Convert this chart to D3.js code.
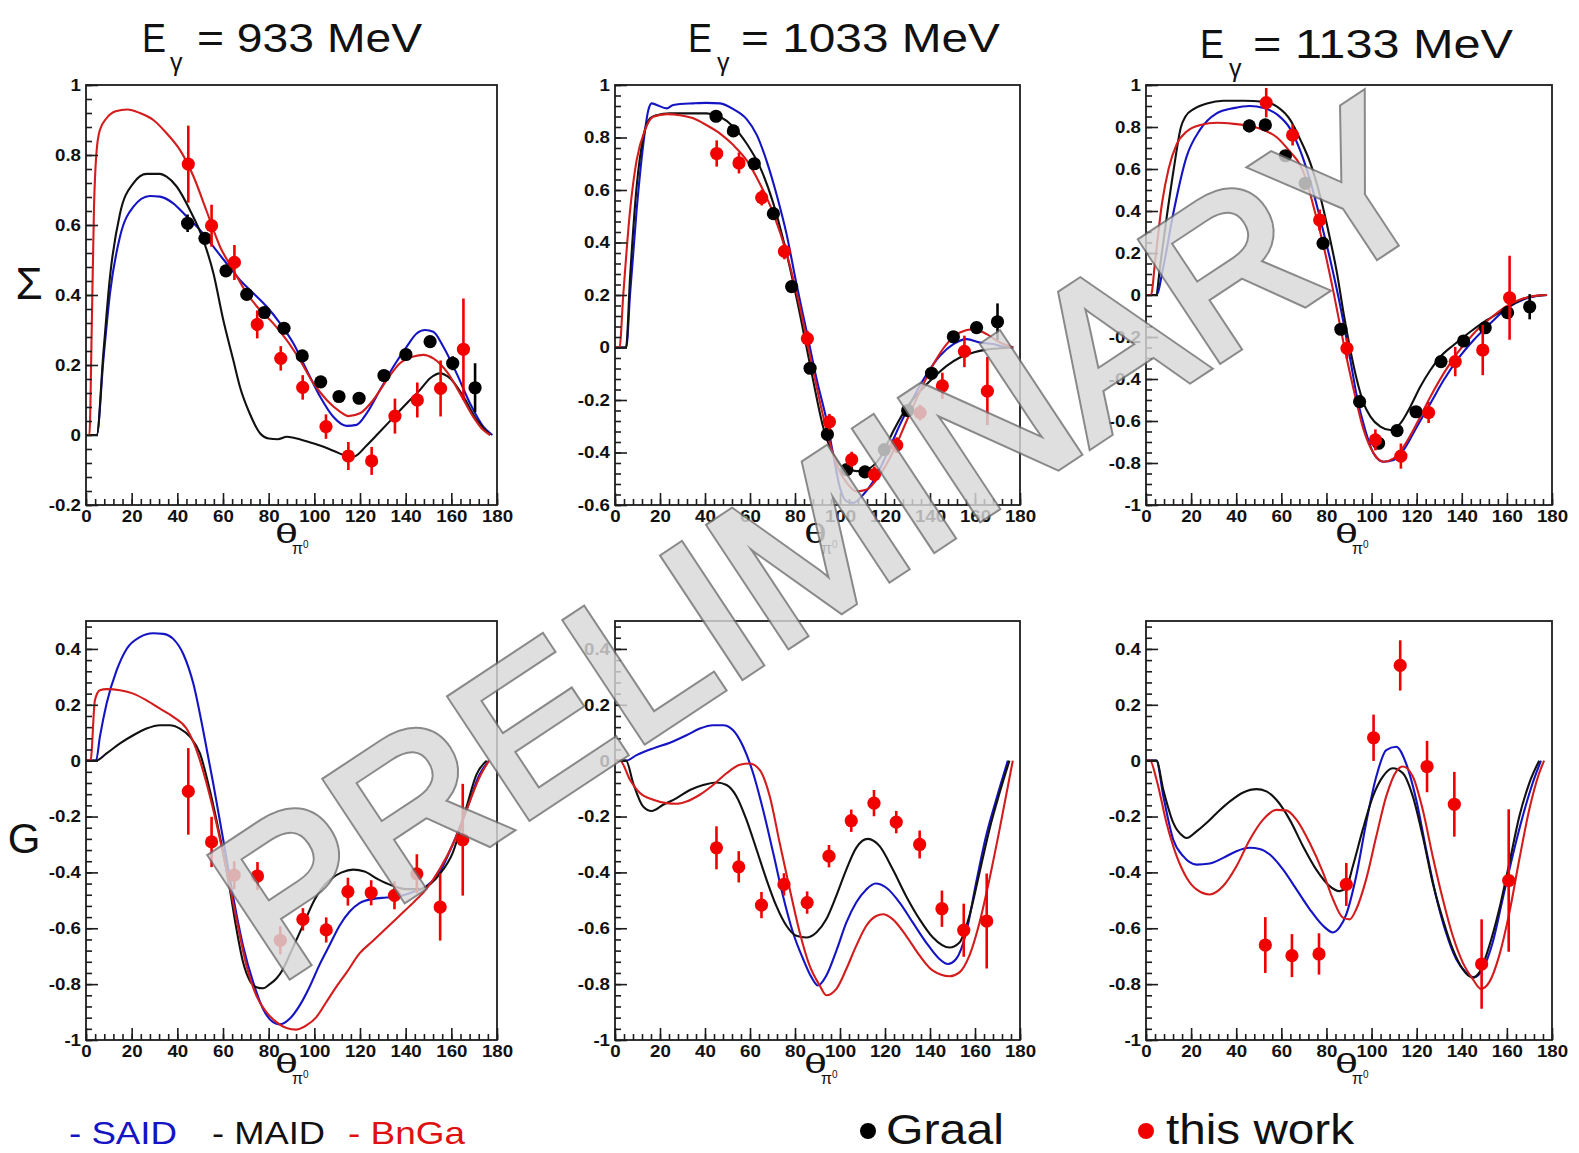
<!DOCTYPE html>
<html>
<head>
<meta charset="utf-8">
<script src="https://cdn.jsdelivr.net/npm/d3@7"></script>
<style>
  html, body { margin: 0; padding: 0; background: #fff; }
  svg { display: block; }
</style>
</head>
<body>
<svg id="fig" width="1579" height="1153"></svg>
<script>
// ---------- axis ticks ----------
const angleTicks = [0, 20, 40, 60, 80, 100, 120, 140, 160, 180];
const sigmaTicks933 = [-0.2, 0, 0.2, 0.4, 0.6, 0.8, 1];
const sigmaTicks1033 = [-0.6, -0.4, -0.2, 0, 0.2, 0.4, 0.6, 0.8, 1];
const sigmaTicks1133 = [-1, -0.8, -0.6, -0.4, -0.2, 0, 0.2, 0.4, 0.6, 0.8, 1];
const gTicks = [-1, -0.8, -0.6, -0.4, -0.2, 0, 0.2, 0.4];

const titles = ["933", "1033", "1133"];

// ---------- Sigma, E = 933 MeV : model curves [theta, value] ----------
const sig933Said = [[0,0],[4.7,0],[7.6,0.214],[10.5,0.405],[14.9,0.567],[20.7,0.652],[28,0.683],[32.4,0.681],[38.2,0.662],[44.1,0.624],[49.9,0.586],[55.8,0.538],[61.6,0.49],[67.4,0.443],[73.3,0.405],[79.1,0.367],[85,0.319],[90.8,0.262],[96.6,0.186],[102.5,0.11],[108.3,0.052],[114.2,0.026],[118.5,0.029],[122.9,0.062],[128.8,0.129],[134.6,0.195],[140.4,0.252],[144.8,0.29],[148.5,0.3],[152.1,0.295],[156.5,0.252],[162.3,0.176],[168.2,0.09],[174,0.024],[177,0.005],[178,0]];
const sig933Maid = [[0,0],[4.7,0],[7.6,0.233],[10.5,0.452],[14.9,0.633],[20.7,0.719],[26.6,0.746],[32.4,0.746],[35.3,0.738],[39.7,0.71],[45.5,0.643],[51.4,0.557],[55.8,0.462],[60.1,0.329],[64.5,0.214],[67.4,0.138],[71.8,0.06],[76.2,0.005],[80,-0.01],[84,-0.012],[88,-0.005],[91,-0.008],[96.6,-0.018],[102.5,-0.03],[108.3,-0.045],[114.2,-0.06],[117.1,-0.062],[122.9,-0.03],[128.8,0.01],[134.6,0.05],[140.4,0.09],[146.3,0.129],[150.7,0.162],[155,0.176],[159.4,0.162],[165.3,0.11],[171.1,0.043],[175.5,0.01],[177,0]];
const sig933Bnga = [[0,0],[1.5,0],[2.5,0.3],[3.5,0.65],[4.5,0.8],[6,0.87],[9,0.905],[13,0.925],[18,0.93],[23.6,0.92],[29.5,0.9],[35.3,0.862],[41.2,0.814],[47,0.74],[52.8,0.64],[58.7,0.538],[64.5,0.471],[70.4,0.405],[76.2,0.357],[82,0.319],[87.9,0.271],[93.7,0.214],[99.6,0.148],[105.4,0.1],[111.2,0.067],[114.9,0.054],[120,0.062],[125.8,0.1],[131.7,0.157],[137.5,0.205],[143.4,0.224],[147.7,0.229],[152.1,0.219],[158,0.181],[163.8,0.119],[169.6,0.052],[174,0.014],[177,0]];
// data points [theta, value, error]
const sig933Graal = [[44.5,0.605,0.025],[52.1,0.562,0.015],[61.3,0.469,0.015],[70.4,0.402,0.015],[78.1,0.35,0.015],[86.7,0.305,0.015],[94.7,0.226,0.015],[102.8,0.152,0.015],[110.8,0.11,0.015],[119.6,0.105,0.015],[130.5,0.17,0.015],[140.1,0.23,0.015],[150.7,0.267,0.015],[160.6,0.205,0.02],[170.4,0.135,0.07]];
const sig933Work = [[44.8,0.774,0.11],[55,0.598,0.06],[65,0.493,0.05],[75,0.316,0.04],[85.3,0.219,0.035],[94.9,0.136,0.035],[105.1,0.024,0.035],[114.9,-0.06,0.04],[125.1,-0.074,0.04],[135.3,0.054,0.05],[145.1,0.1,0.05],[155.3,0.133,0.08],[165.3,0.245,0.145]];

// ---------- Sigma, E = 1033 MeV ----------
const sig1033Said = [[0,0],[5,0],[6.7,0.204],[9.6,0.522],[12.6,0.777],[14.8,0.904],[16.3,0.93],[18.5,0.924],[23,0.911],[25.9,0.924],[34.8,0.93],[40.7,0.932],[46.7,0.93],[52.6,0.908],[58.5,0.87],[63,0.81],[67.4,0.71],[71.9,0.58],[76.3,0.43],[80.7,0.24],[85.2,0.06],[89.6,-0.12],[94.1,-0.28],[97,-0.408],[100,-0.535],[103,-0.586],[105.9,-0.592],[110.4,-0.56],[114.8,-0.51],[120.7,-0.408],[126.7,-0.293],[132.6,-0.191],[138.5,-0.102],[144.4,-0.032],[150.4,0.013],[156.3,0.032],[162.2,0.019],[168.1,0.013],[172.6,0.003],[177,0]];
const sig1033Maid = [[0,0],[4.9,0],[6.7,0.268],[9.6,0.611],[12.6,0.803],[15.6,0.873],[18.5,0.885],[24.4,0.892],[31.9,0.892],[40.7,0.892],[46.7,0.879],[52.6,0.841],[58.5,0.777],[64.4,0.688],[70.4,0.548],[76.3,0.357],[82.2,0.127],[88.1,-0.127],[92.6,-0.306],[97,-0.408],[101.5,-0.459],[107.4,-0.471],[111.9,-0.465],[117.8,-0.42],[123.7,-0.318],[129.6,-0.229],[135.6,-0.166],[141.5,-0.115],[147.4,-0.07],[153.3,-0.038],[159.3,-0.019],[165.2,-0.008],[171.1,-0.003],[177,0]];
const sig1033Bnga = [[0,0],[2,0],[3.7,0.204],[6.7,0.522],[9.6,0.713],[13.3,0.828],[17,0.879],[23,0.889],[28.9,0.885],[34.8,0.873],[40.7,0.847],[46.7,0.815],[52.6,0.771],[58.5,0.713],[64.4,0.624],[70.4,0.51],[76.3,0.357],[82.2,0.153],[88.1,-0.089],[94.1,-0.318],[98.5,-0.446],[103,-0.516],[107.4,-0.548],[111.9,-0.541],[117.8,-0.484],[123.7,-0.395],[129.6,-0.28],[135.6,-0.166],[141.5,-0.064],[147.4,0.013],[153.3,0.057],[159.3,0.07],[165.2,0.051],[171.1,0.019],[177,0]];
const sig1033Graal = [[44.9,0.881,0.015],[52.6,0.825,0.015],[61.9,0.70,0.015],[70.4,0.51,0.015],[78.5,0.232,0.015],[86.7,-0.079,0.015],[94.4,-0.331,0.015],[103,-0.465,0.015],[111.1,-0.474,0.015],[119.7,-0.389,0.015],[130.1,-0.24,0.015],[140.7,-0.098,0.015],[150.4,0.041,0.015],[160.7,0.076,0.02],[170,0.098,0.07]];
const sig1033Work = [[45.2,0.739,0.05],[55.1,0.703,0.04],[65.2,0.571,0.03],[75.3,0.366,0.03],[85.5,0.034,0.03],[95.3,-0.283,0.03],[105.2,-0.427,0.03],[115.3,-0.484,0.03],[125.2,-0.372,0.03],[135.6,-0.248,0.03],[145.5,-0.146,0.05],[155.3,-0.015,0.06],[165.5,-0.166,0.13]];

// ---------- Sigma, E = 1133 MeV ----------
const sig1133Said = [[0,0],[4.6,0],[7.7,0.135],[12.1,0.389],[18,0.659],[23.9,0.786],[31.3,0.865],[38.9,0.89],[46.1,0.9],[52.2,0.89],[58.1,0.86],[64,0.79],[68.3,0.69],[72.9,0.54],[77.3,0.36],[81.7,0.167],[86.2,-0.056],[90.6,-0.31],[93.5,-0.484],[97.2,-0.643],[100.9,-0.754],[105.4,-0.794],[109.8,-0.786],[114.2,-0.738],[120.1,-0.627],[126.1,-0.516],[132,-0.405],[137.9,-0.31],[145.3,-0.214],[152.7,-0.135],[160,-0.063],[167.4,-0.021],[173.3,-0.005],[177.8,0]];
const sig1133Maid = [[0,0],[4.4,0],[6.4,0.15],[9.3,0.38],[12.3,0.6],[15.5,0.8],[17.5,0.85],[21.1,0.885],[27,0.912],[34.4,0.925],[43.3,0.925],[52.2,0.92],[58.1,0.897],[64,0.833],[68.4,0.74],[72.9,0.627],[77.3,0.468],[81.7,0.262],[84.7,0.103],[87.6,-0.087],[90.6,-0.262],[93.5,-0.405],[96.5,-0.516],[99.5,-0.579],[103.9,-0.627],[108.3,-0.643],[112.8,-0.611],[117.2,-0.532],[121.6,-0.437],[126.1,-0.357],[130.5,-0.294],[136.4,-0.238],[143.8,-0.175],[151.2,-0.119],[158.6,-0.071],[164.5,-0.032],[170.4,-0.008],[177.8,0]];
const sig1133Bnga = [[0,0],[2.2,0],[4.1,0.167],[7.1,0.437],[10,0.6],[13.7,0.72],[18.2,0.78],[24.1,0.81],[31.5,0.82],[38.9,0.815],[46.3,0.805],[52.2,0.786],[58.1,0.75],[64,0.68],[68.3,0.62],[71,0.55],[74.3,0.42],[78.8,0.23],[83.2,0.01],[87.6,-0.23],[92.1,-0.452],[96.5,-0.643],[100.9,-0.754],[105.4,-0.794],[109.8,-0.778],[114.2,-0.722],[120.1,-0.611],[126.1,-0.484],[132,-0.373],[137.9,-0.278],[145.3,-0.183],[152.7,-0.111],[160,-0.052],[167.4,-0.016],[173.3,-0.003],[177.8,0]];
const sig1133Graal = [[45.8,0.805,0.03],[52.9,0.81,0.02],[61.8,0.663,0.015],[70.6,0.532,0.015],[78.5,0.246,0.02],[86.4,-0.163,0.02],[94.7,-0.508,0.02],[103.1,-0.706,0.02],[111.3,-0.646,0.02],[119.7,-0.556,0.02],[130.8,-0.317,0.02],[140.8,-0.219,0.02],[150.4,-0.156,0.02],[160.3,-0.084,0.03],[170.1,-0.056,0.06]];
const sig1133Work = [[53.3,0.916,0.07],[65,0.762,0.05],[77,0.357,0.05],[89.1,-0.254,0.05],[101.7,-0.69,0.05],[113,-0.767,0.06],[125.3,-0.56,0.05],[137.1,-0.317,0.07],[149.3,-0.262,0.12],[161.2,-0.013,0.2]];

// ---------- G, E = 933 MeV ----------
const g933Said = [[0,0],[4.4,0],[6.1,0.086],[9,0.204],[13.4,0.323],[17.8,0.4],[23.6,0.442],[29.4,0.456],[33.8,0.454],[38.2,0.436],[42.6,0.382],[47,0.276],[51.3,0.109],[55.7,-0.081],[60.1,-0.283],[64.4,-0.485],[68.8,-0.663],[73.2,-0.793],[77.5,-0.888],[81.9,-0.936],[84.8,-0.944],[89.2,-0.924],[93.6,-0.876],[97.9,-0.81],[102.3,-0.73],[106.7,-0.66],[111.1,-0.59],[115.5,-0.54],[119.8,-0.51],[125.7,-0.495],[131.5,-0.49],[137.3,-0.485],[143.1,-0.47],[149,-0.45],[154.8,-0.4],[160.6,-0.3],[166.5,-0.18],[172.3,-0.05],[176.5,0]];
const g933Maid = [[0,0],[4.4,0],[9,0.026],[14.9,0.062],[20.7,0.091],[26.5,0.115],[32.4,0.127],[36.7,0.127],[41.1,0.115],[45.5,0.086],[49.9,0.026],[54.2,-0.105],[57.1,-0.211],[60.1,-0.33],[63,-0.461],[65.9,-0.603],[68.8,-0.722],[71.7,-0.787],[74.6,-0.811],[77.6,-0.815],[80.5,-0.8],[83.4,-0.78],[86,-0.75],[90,-0.68],[95,-0.59],[100,-0.5],[103,-0.46],[107,-0.425],[112,-0.4],[117,-0.39],[122,-0.397],[128,-0.425],[134,-0.447],[140,-0.46],[146,-0.46],[151,-0.44],[155,-0.405],[160.6,-0.33],[166.5,-0.17],[171,-0.05],[175.5,0]];
const g933Bnga = [[0,0],[2,0],[3.9,0.216],[6.1,0.252],[9,0.256],[14.9,0.252],[20.7,0.24],[26.5,0.216],[32.4,0.186],[38.2,0.157],[44,0.115],[48.4,0.038],[52.8,-0.081],[57.1,-0.223],[61.5,-0.39],[65.9,-0.568],[70.3,-0.734],[74.6,-0.841],[79,-0.9],[83.4,-0.936],[87.8,-0.957],[92.1,-0.963],[96.5,-0.948],[100.9,-0.918],[105.2,-0.865],[109.6,-0.81],[114,-0.76],[119.8,-0.69],[125.7,-0.645],[131.5,-0.6],[137.3,-0.555],[143.1,-0.51],[149,-0.46],[154.8,-0.39],[160.6,-0.3],[166.5,-0.18],[172.3,-0.06],[176.5,0]];
const g933Work = [[44.8,-0.11,0.155],[55,-0.291,0.09],[64.9,-0.41,0.05],[75.1,-0.413,0.05],[85.1,-0.643,0.05],[95,-0.568,0.04],[105.2,-0.606,0.045],[114.7,-0.469,0.05],[124.9,-0.473,0.045],[135.1,-0.482,0.05],[144.9,-0.405,0.07],[155.1,-0.524,0.12],[165,-0.283,0.2]];

// ---------- G, E = 1033 MeV ----------
const g1033Said = [[0,0],[4.9,0],[9.6,0.02],[17,0.044],[24.4,0.064],[31.8,0.091],[37.7,0.115],[43.6,0.127],[48.1,0.127],[52.5,0.109],[57,0.05],[61.4,-0.045],[65.8,-0.176],[70.3,-0.33],[74.7,-0.485],[79.1,-0.615],[83.6,-0.71],[87.3,-0.775],[90.2,-0.805],[93.9,-0.77],[98.4,-0.68],[102.8,-0.58],[107.2,-0.508],[111.7,-0.461],[115.8,-0.44],[120.6,-0.455],[126.5,-0.508],[132.4,-0.58],[138.3,-0.651],[144.2,-0.71],[147.9,-0.728],[151.6,-0.71],[156.1,-0.615],[160.5,-0.437],[164.9,-0.271],[169.4,-0.14],[174.6,0]];
const g1033Maid = [[0,0],[4.9,0],[8.1,-0.081],[12.6,-0.165],[16.3,-0.18],[21.4,-0.158],[27.4,-0.134],[33.3,-0.105],[39.2,-0.087],[45.1,-0.078],[49.6,-0.087],[54,-0.128],[58.4,-0.211],[62.9,-0.318],[67.3,-0.425],[71.7,-0.52],[76.2,-0.591],[80.6,-0.627],[85,-0.633],[89.5,-0.615],[93.9,-0.568],[98.3,-0.485],[102.8,-0.39],[107.2,-0.312],[112.4,-0.28],[117.6,-0.306],[123.5,-0.39],[129.4,-0.485],[135.4,-0.568],[141.3,-0.633],[148.7,-0.669],[153.1,-0.651],[157.5,-0.556],[162,-0.401],[166.4,-0.247],[170.9,-0.116],[175.3,0]];
const g1033Bnga = [[0,0],[2.2,0],[6.7,-0.069],[11.1,-0.116],[17,-0.14],[22.9,-0.152],[27.4,-0.154],[31.8,-0.146],[37.7,-0.122],[43.6,-0.087],[49.6,-0.045],[55.5,-0.015],[59.9,-0.01],[64.3,-0.033],[68.8,-0.128],[73.2,-0.295],[77.7,-0.461],[82.1,-0.615],[86.5,-0.734],[91,-0.805],[93.9,-0.84],[98.4,-0.817],[102.8,-0.746],[107.2,-0.663],[111.7,-0.591],[116.1,-0.556],[119.1,-0.55],[123.5,-0.568],[129.4,-0.627],[135.4,-0.698],[141.3,-0.752],[148.7,-0.772],[153.1,-0.758],[157.5,-0.698],[162,-0.58],[166.4,-0.425],[170.9,-0.247],[176.8,0]];
const g1033Work = [[45.1,-0.312,0.077],[55,-0.38,0.056],[65.1,-0.517,0.047],[75.1,-0.443,0.04],[85.4,-0.508,0.04],[95.1,-0.342,0.04],[105,-0.215,0.04],[115.1,-0.152,0.047],[125,-0.22,0.04],[135.4,-0.3,0.05],[145.3,-0.53,0.065],[155,-0.607,0.095],[165.2,-0.574,0.17]];

// ---------- G, E = 1133 MeV ----------
const g1133Said = [[0,0],[4.6,0],[7.7,-0.128],[12.1,-0.283],[16.5,-0.342],[22.4,-0.372],[28.3,-0.368],[34.2,-0.348],[40.1,-0.324],[46,-0.312],[50.4,-0.316],[54.9,-0.336],[60.8,-0.39],[66.7,-0.461],[72.6,-0.532],[78.5,-0.591],[82.9,-0.615],[85.8,-0.597],[88.8,-0.55],[93.2,-0.413],[97.6,-0.223],[102.1,-0.057],[106.5,0.038],[110.9,0.05],[115.3,-0.01],[119.8,-0.14],[124.2,-0.318],[128.6,-0.485],[133,-0.615],[137.5,-0.71],[141.9,-0.758],[145.6,-0.776],[149.3,-0.746],[153.7,-0.651],[158.1,-0.496],[162.5,-0.342],[167,-0.2],[171.4,-0.081],[175.1,0]];
const g1133Maid = [[0,0],[4.6,0],[7.7,-0.105],[12.1,-0.223],[16.5,-0.271],[18,-0.277],[22.4,-0.253],[26.8,-0.223],[31.3,-0.188],[37.2,-0.146],[43.1,-0.114],[49,-0.102],[53.4,-0.11],[57.8,-0.14],[63.7,-0.211],[69.6,-0.306],[75.5,-0.39],[81.4,-0.449],[85.8,-0.467],[88.8,-0.455],[91.7,-0.378],[96.1,-0.247],[100.6,-0.128],[105,-0.057],[109.4,-0.027],[113.9,-0.045],[118.3,-0.128],[122.7,-0.271],[127.1,-0.437],[131.6,-0.568],[136,-0.675],[140.4,-0.746],[144.8,-0.776],[147.8,-0.758],[152.2,-0.663],[156.6,-0.532],[161.1,-0.366],[165.5,-0.2],[169.9,-0.081],[174.3,0]];
const g1133Bnga = [[0,0],[1.8,0],[4.7,-0.069],[9.1,-0.223],[13.6,-0.342],[18,-0.419],[22.4,-0.461],[28.3,-0.479],[34.2,-0.449],[40.1,-0.378],[46,-0.283],[51.9,-0.211],[57.8,-0.176],[62.2,-0.178],[66.7,-0.211],[72.6,-0.295],[78.5,-0.401],[82.9,-0.496],[87.3,-0.562],[90.3,-0.568],[93.2,-0.532],[97.6,-0.425],[102.1,-0.271],[106.5,-0.128],[110.9,-0.039],[113.9,-0.021],[118.3,-0.057],[122.7,-0.176],[127.1,-0.342],[131.6,-0.496],[136,-0.627],[140.4,-0.722],[144.8,-0.781],[148.5,-0.817],[152.2,-0.793],[156.6,-0.698],[161.1,-0.544],[165.5,-0.354],[169.9,-0.176],[174.3,-0.045],[176.5,0]];
const g1133Work = [[52.9,-0.66,0.1],[64.7,-0.698,0.077],[76.7,-0.692,0.074],[88.8,-0.443,0.077],[100.9,0.082,0.083],[112.7,0.341,0.09],[124.6,-0.021,0.092],[136.7,-0.156,0.116],[148.8,-0.728,0.16],[160.8,-0.429,0.255]];

// ---------- colours & layout ----------
const cSaid = "#1414c4", cMaid = "#111111", cBnga = "#d41c1c";
const cWork = "#f20000", cGraal = "#000000";
const frameCol = "#1c1c1c";
const FONT = "'Liberation Sans', Arial, Helvetica, sans-serif";

const colLeft = [86, 615, 1146], colWidth = [411, 405, 406];
const rowTop = [85, 621], rowHeight = [420, 419];

const panels = [
  { r: 0, c: 0, dom: [-0.2, 1], ticks: sigmaTicks933,  minor: 0.04, said: sig933Said,  maid: sig933Maid,  bnga: sig933Bnga,  graal: sig933Graal,  work: sig933Work },
  { r: 0, c: 1, dom: [-0.6, 1], ticks: sigmaTicks1033, minor: 0.04, said: sig1033Said, maid: sig1033Maid, bnga: sig1033Bnga, graal: sig1033Graal, work: sig1033Work },
  { r: 0, c: 2, dom: [-1, 1],   ticks: sigmaTicks1133, minor: 0.05, said: sig1133Said, maid: sig1133Maid, bnga: sig1133Bnga, graal: sig1133Graal, work: sig1133Work },
  { r: 1, c: 0, dom: [-1, 0.5], ticks: gTicks, minor: 0.04, said: g933Said,  maid: g933Maid,  bnga: g933Bnga,  graal: [], work: g933Work },
  { r: 1, c: 1, dom: [-1, 0.5], ticks: gTicks, minor: 0.04, said: g1033Said, maid: g1033Maid, bnga: g1033Bnga, graal: [], work: g1033Work },
  { r: 1, c: 2, dom: [-1, 0.5], ticks: gTicks, minor: 0.04, said: g1133Said, maid: g1133Maid, bnga: g1133Bnga, graal: [], work: g1133Work }
];

const svg = d3.select("#fig");
const fmt = v => String(Math.round(v * 10) / 10);

// slightly widen glyphs of a text selection
function widen(sel, k) {
  sel.each(function () {
    const w = this.getComputedTextLength();
    if (w > 0) {
      this.setAttribute("textLength", (w * k).toFixed(2));
      this.setAttribute("lengthAdjust", "spacingAndGlyphs");
    }
  });
}

function minorValues(lo, hi, step) {
  const n = Math.floor((hi - lo) / step + 1e-6);
  return d3.range(n + 1).map(i => +(lo + i * step).toFixed(4));
}

panels.forEach((p, idx) => {
  const L = colLeft[p.c], T = rowTop[p.r], w = colWidth[p.c], h = rowHeight[p.r];
  const g = svg.append("g").attr("transform", `translate(${L},${T})`);
  const x = d3.scaleLinear().domain([0, 180]).range([0, w]);
  const y = d3.scaleLinear().domain(p.dom).range([h, 0]);

  g.append("clipPath").attr("id", "clip" + idx)
    .append("rect").attr("width", w).attr("height", h);
  const plot = g.append("g").attr("clip-path", `url(#clip${idx})`);

  // model curves
  const line = d3.line().x(d => x(d[0])).y(d => y(d[1])).curve(d3.curveMonotoneX);
  [[p.said, cSaid], [p.maid, cMaid], [p.bnga, cBnga]].forEach(([data, col]) => {
    plot.append("path").datum(data).attr("d", line)
      .attr("fill", "none").attr("stroke", col).attr("stroke-width", 2.1)
      .attr("stroke-linejoin", "round");
  });

  // measured points with error bars
  [[p.graal, cGraal], [p.work, cWork]].forEach(([data, col]) => {
    const pts = plot.append("g");
    pts.selectAll("line").data(data).join("line")
      .attr("x1", d => x(d[0])).attr("x2", d => x(d[0]))
      .attr("y1", d => y(d[1] - d[2])).attr("y2", d => y(d[1] + d[2]))
      .attr("stroke", col).attr("stroke-width", 2.6);
    pts.selectAll("circle").data(data).join("circle")
      .attr("cx", d => x(d[0])).attr("cy", d => y(d[1])).attr("r", 6.6)
      .attr("fill", col);
  });

  // y axis: major + minor ticks inside the frame
  const yMaj = g.append("g").call(d3.axisLeft(y).tickValues(p.ticks).tickSize(-12).tickPadding(5).tickFormat(fmt));
  const yMin = g.append("g").call(d3.axisLeft(y).tickValues(minorValues(p.dom[0], p.dom[1], p.minor)).tickSize(-6).tickFormat(""));
  // x axis
  const xMaj = g.append("g").attr("transform", `translate(0,${h})`)
    .call(d3.axisBottom(x).tickValues(angleTicks).tickSize(-12).tickPadding(5).tickFormat(d3.format("d")));
  const xMin = g.append("g").attr("transform", `translate(0,${h})`)
    .call(d3.axisBottom(x).tickValues(d3.range(0, 181, 4)).tickSize(-6).tickFormat(""));

  [yMaj, yMin, xMaj, xMin].forEach(a => {
    a.select(".domain").remove();
    a.selectAll("line").attr("stroke", frameCol).attr("stroke-width", 1.6);
    a.selectAll("text").attr("font-family", FONT).attr("font-size", 17)
      .attr("font-weight", "bold").attr("fill", "#111");
  });
  widen(yMaj.selectAll("text"), 1.1);
  widen(xMaj.selectAll("text"), 1.1);

  // frame
  g.append("rect").attr("width", w).attr("height", h)
    .attr("fill", "none").attr("stroke", frameCol).attr("stroke-width", 1.8);

  // x-axis title: theta with pi^0 subscript
  const xt = g.append("g").attr("transform", `translate(${189},${h + (p.r === 0 ? 38 : 33)})`)
    .attr("font-family", FONT).attr("fill", "#111");
  xt.append("text").attr("x", 0).attr("y", 0).attr("font-size", 28).text("θ")
    .attr("textLength", 23).attr("lengthAdjust", "spacingAndGlyphs");
  xt.append("text").attr("x", 17).attr("y", 11).attr("font-size", 16).text("π");
  xt.append("text").attr("x", 28).attr("y", 5).attr("font-size", 10).text("0");
});

// panel titles
const titleBox = [
  { e: 142, g: 170, eq: 197, len: 225, base: 52 },
  { e: 688, g: 717, eq: 741, len: 259, base: 52 },
  { e: 1200, g: 1229, eq: 1253, len: 260, base: 58 }
];
titles.forEach((t, i) => {
  const b = titleBox[i];
  const tg = svg.append("g").attr("font-family", FONT).attr("fill", "#111");
  tg.append("text").attr("x", b.e).attr("y", b.base).attr("font-size", 40).text("E")
    .attr("textLength", 24).attr("lengthAdjust", "spacingAndGlyphs");
  tg.append("text").attr("x", b.g).attr("y", b.base + 19).attr("font-size", 25).text("γ");
  tg.append("text").attr("x", b.eq).attr("y", b.base).attr("font-size", 40)
    .text(`= ${t} MeV`).attr("textLength", b.len).attr("lengthAdjust", "spacingAndGlyphs");
});

// row titles
svg.append("text").attr("x", 29).attr("y", 299).attr("text-anchor", "middle")
  .attr("font-family", FONT).attr("font-size", 44).attr("fill", "#111").text("Σ");
svg.append("text").attr("x", 24).attr("y", 853).attr("text-anchor", "middle")
  .attr("font-family", FONT).attr("font-size", 42).attr("fill", "#111").text("G");

// legend
const modelLegend = [
  { label: "- SAID", col: cSaid, x: 69, len: 108 },
  { label: "- MAID", col: "#111", x: 212, len: 113 },
  { label: "- BnGa", col: "#e01010", x: 348, len: 117 }
];
modelLegend.forEach(m => {
  svg.append("text").attr("x", m.x).attr("y", 1144).attr("font-family", FONT)
    .attr("font-size", 32).attr("fill", m.col).text(m.label)
    .attr("textLength", m.len).attr("lengthAdjust", "spacingAndGlyphs");
});
const dataLegend = [
  { label: "Graal", col: cGraal, cx: 868, tx: 886, len: 118 },
  { label: "this work", col: cWork, cx: 1146, tx: 1166, len: 188 }
];
dataLegend.forEach(m => {
  svg.append("circle").attr("cx", m.cx).attr("cy", 1131).attr("r", 8).attr("fill", m.col);
  svg.append("text").attr("x", m.tx).attr("y", 1144).attr("font-family", FONT)
    .attr("font-size", 42).attr("fill", "#111").text(m.label)
    .attr("textLength", m.len).attr("lengthAdjust", "spacingAndGlyphs");
});

// watermark across the figure: fattened light letters with a grey outline,
// composited as one translucent layer
const wm = svg.append("g").attr("opacity", 0.82)
  .attr("transform", "translate(860,598) rotate(-33.5)")
  .attr("font-family", FONT).attr("font-size", 207).attr("text-anchor", "middle");
wm.append("text").text("PRELIMINARY")
  .attr("fill", "#707070").attr("stroke", "#707070").attr("stroke-width", 9)
  .attr("stroke-linejoin", "miter");
wm.append("text").text("PRELIMINARY")
  .attr("fill", "#d8d8d8").attr("stroke", "#d8d8d8").attr("stroke-width", 5)
  .attr("stroke-linejoin", "miter");
</script>
</body>
</html>
